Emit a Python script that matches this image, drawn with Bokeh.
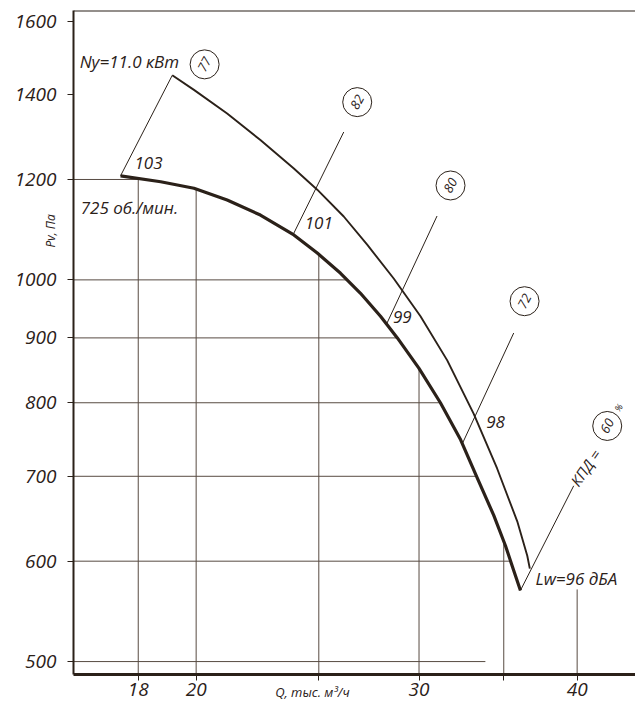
import numpy as np
from bokeh.plotting import figure
from bokeh.models import FixedTicker, NumeralTickFormatter, Span, LogAxis
from bokeh.core.properties import value
from bokeh.embed import file_html
from bokeh.resources import INLINE

# ---------------- data ----------------
# pressure curve at 725 rpm (thick)
q_low = [17.43, 18.75, 19.92, 21.16, 22.48, 23.89, 24.93, 26.01, 26.97, 27.97,
         28.84, 29.99, 31.19, 32.36, 33.35, 34.37, 35.11, 35.64, 36.08]
p_low = [1208, 1195, 1181, 1156, 1125, 1085, 1050, 1012, 976, 936,
         900, 852, 800, 748, 698, 652, 617, 590, 569]
# upper boundary curve (Ny = 11.0 kW)
q_up = [19.15, 19.92, 21.16, 22.48, 23.89, 24.93, 26.16, 27.30, 28.66, 30.08,
        31.58, 33.14, 34.58, 35.87, 36.53, 36.70]
p_up = [1450, 1412, 1353, 1289, 1224, 1178, 1122, 1066, 1002, 936,
        864, 784, 710, 645, 606, 592]

# efficiency rays (%), starting on the pressure curve
eff = [77, 82, 80, 72, 60]
ray_q0 = [17.43, 23.86, 28.28, 32.46, 36.08]
ray_q1 = [19.15, 26.16, 31.00, 35.64, 39.75]
ray_p1 = [1450, 1308, 1123, 908, 688]
eff_q = [20.31, 26.81, 31.77, 36.35, 42.25]
eff_p = [1479, 1381, 1187, 962, 767]

# sound power levels along rays, dB
lw = ["103", "101", "99", "98"]
lw_q = [18.34, 25.00, 29.10, 34.48]
lw_p = [1236, 1108, 934, 772]

# axes
x_ticks = [18, 20, 25, 30, 35, 40]
x_tick_labels = {25: "", 35: ""}
y_ticks = [500, 600, 700, 800, 900, 1000, 1200, 1400, 1600]
x_title, x_title_at = "Q, тыс. м³/ч", 24.71
y_title, y_title_at = "Pv, Па", 1093

# grid lines: horizontal ones run up to the curve, vertical ones up to the curve
h_grid = [1200, 1000, 900, 800, 700, 600, 500]
v_grid = [18, 20, 25, 30, 35, 40]
h_grid_limit = {500: 33.85}
v_grid_limit = {40: 570}

x_lo, x_hi = 16.0, 44.48
y_lo, y_hi = 488.4, 1631

W, H = 635, 703
ink = "#2b2119"
grid_col = "#574b42"
FONT = "Open Sans"

# ---------------- figure ----------------
p = figure(width=W, height=H, x_axis_type="log", y_axis_type="log",
           x_range=(x_lo, x_hi), y_range=(y_lo, y_hi),
           output_backend="svg", toolbar_location=None,
           min_border_left=73, min_border_top=10, min_border_right=0,
           min_border_bottom=27)
p.outline_line_color = None
p.grid.visible = False
p.background_fill_color = "white"

for ax in (p.xaxis[0], p.yaxis[0]):
    ax.axis_line_color = ink
    ax.major_tick_line_color = ink
    ax.major_tick_in = 0
    ax.major_tick_out = 6
    ax.minor_tick_line_color = None
    ax.major_label_text_font = FONT
    ax.major_label_text_font_style = "italic"
    ax.major_label_text_color = ink
    ax.major_label_text_font_size = "19px"
    ax.formatter = NumeralTickFormatter(format="0")

p.xaxis.ticker = FixedTicker(ticks=x_ticks, minor_ticks=[])
p.yaxis.ticker = FixedTicker(ticks=y_ticks, minor_ticks=[])
p.xaxis.major_label_overrides = x_tick_labels
p.xaxis.axis_line_width = 3
p.yaxis.axis_line_width = 2
p.xaxis.major_label_standoff = 2
p.yaxis.major_label_standoff = 11

p.add_layout(Span(location=y_hi, dimension="width", line_color=ink, line_width=2))


# axis titles placed as single-tick label axes (they sit beside the tick labels)
def title_axis(tick, text, size, standoff, orientation):
    ax = LogAxis(ticker=FixedTicker(ticks=[tick], minor_ticks=[]),
                 major_label_overrides={tick: text},
                 major_label_orientation=orientation,
                 axis_line_color=None, major_tick_line_color=None,
                 minor_tick_line_color=None, major_tick_in=0, major_tick_out=0,
                 major_label_standoff=standoff,
                 major_label_text_font=FONT, major_label_text_font_style="italic",
                 major_label_text_color=ink, major_label_text_font_size=size)
    return ax


p.add_layout(title_axis(y_title_at, y_title, "12px", -48, "vertical"), "left")
p.add_layout(title_axis(x_title_at, x_title, "13px", -16, "horizontal"), "below")

# ---------------- grid ----------------
lq_low = np.log10(q_low)
lp_low = np.log10(p_low)


def p_on_curve(q):
    return 10 ** np.interp(np.log10(q), lq_low, lp_low)


def q_on_curve(pv):
    return 10 ** np.interp(np.log10(pv), lp_low[::-1], lq_low[::-1])


hx1 = [h_grid_limit.get(v, q_on_curve(v)) for v in h_grid]
vy1 = [v_grid_limit.get(v, p_on_curve(v)) for v in v_grid]

p.segment(x0=[x_lo] * len(h_grid), y0=h_grid, x1=hx1, y1=h_grid,
          line_color=grid_col, line_width=1)
p.segment(x0=v_grid, y0=[y_lo] * len(v_grid), x1=v_grid, y1=vy1,
          line_color=grid_col, line_width=1)

# ---------------- curves ----------------
p.line(q_up, p_up, line_color=ink, line_width=1.9)
p.line(q_low, p_low, line_color=ink, line_width=3.2)
ray_p0 = [p_on_curve(q) for q in ray_q0]
p.segment(x0=ray_q0, y0=ray_p0, x1=ray_q1, y1=ray_p1, line_color=ink, line_width=1)

# efficiency circles
p.scatter(eff_q, eff_p, marker="circle", size=29, fill_color="white",
          line_color=ink, line_width=1)
p.text(eff_q, eff_p, text=[str(e) for e in eff], angle=1.08,
       text_align="center", text_baseline="middle", text_color=ink,
       text_font=value(FONT), text_font_style="italic", text_font_size="13px")

# sound levels
p.text(lw_q, lw_p, text=lw, text_align="center", text_baseline="middle",
       text_color=ink, text_font=value(FONT), text_font_style="italic",
       text_font_size="17px")


def note(x, y, t, size="17px", align="left", angle=0.0):
    p.text([x], [y], text=[t], angle=angle, text_align=align,
           text_baseline="middle", text_color=ink, text_font=value(FONT),
           text_font_style="italic", text_font_size=size)


note(16.18, 1487, "Ny=11.0 кВт")
note(16.21, 1140, "725 об./мин.")
note(37.08, 581, "Lw=96 дБА", size="17px")
note(40.61, 711, "КПД =", size="15px", align="center", angle=0.96)
note(43.13, 793, "%", size="9px", align="center", angle=0.96)

open("out.html", "w").write(file_html(p, INLINE))
